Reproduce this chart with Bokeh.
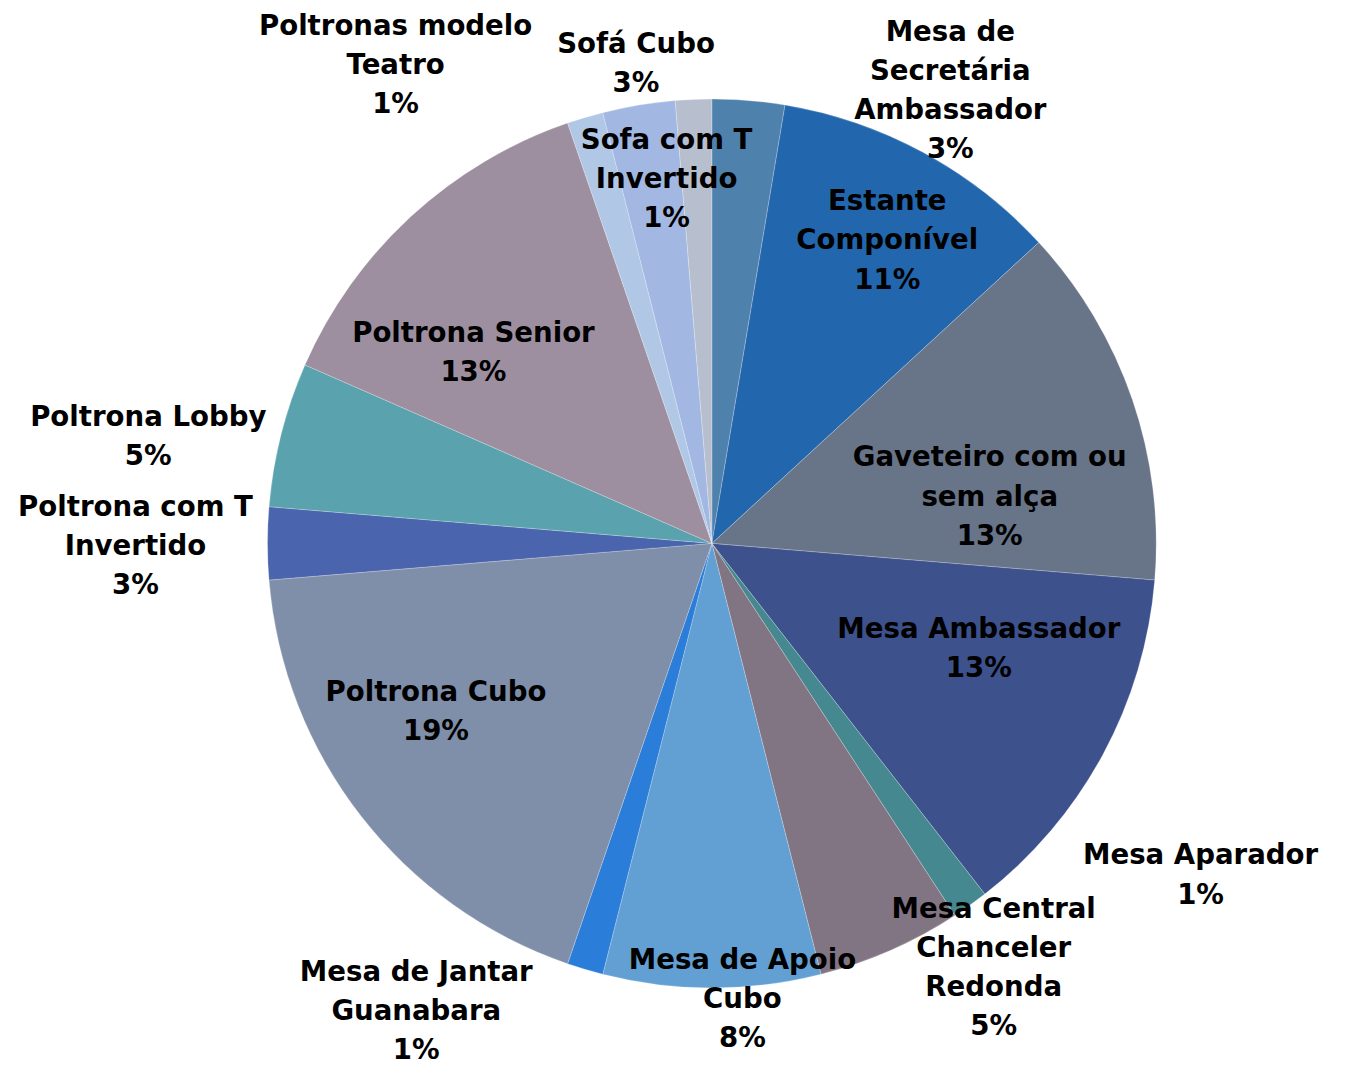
import math
from bokeh.plotting import figure
from bokeh.models import ColumnDataSource, Range1d
from bokeh.core.properties import value
from bokeh.embed import file_html
from bokeh.resources import INLINE

# ---------------- data ----------------
CATEGORIES = [
    "Mesa de\nSecretária\nAmbassador",
    "Estante\nComponível",
    "Gaveteiro com ou\nsem alça",
    "Mesa Ambassador",
    "Mesa Aparador",
    "Mesa Central\nChanceler\nRedonda",
    "Mesa de Apoio\nCubo",
    "Mesa de Jantar\nGuanabara",
    "Poltrona Cubo",
    "Poltrona com T\nInvertido",
    "Poltrona Lobby",
    "Poltrona Senior",
    "Poltronas modelo\nTeatro",
    "Sofá Cubo",
    "Sofa com T\nInvertido",
]
COUNTS = [2, 8, 10, 10, 1, 4, 6, 1, 14, 2, 4, 10, 1, 2, 1]

# ---------------- styles / layout ----------------
COLORS = [
    "#4F81AD", "#2267AE", "#687589", "#3D528C", "#468890",
    "#827583", "#629FD3", "#2A7DD9", "#7F8EA9", "#4A65AD",
    "#5AA3AE", "#9E8FA0", "#B0C8E6", "#A2B8E3", "#B7BFCF",
]
W, H = 1331, 1071
S = H / 1087.0             # layout designed on a 1347x1087 canvas, scaled to fit
CX, CY = 722 * S, 551 * S  # pie centre, pixels from top-left of the plot
R = 451 * S                # pie radius, pixels
# label block centres, offsets from the pie centre in design pixels (y downward)
LABEL_OFFSETS = [
    (242, -460), (178, -308), (282, -48), (271, 106), (496, 336),
    (286, 430), (31, 462), (-300, 474), (-280, 170), (-585, 2),
    (-572, -109), (-242, -194), (-321, -486), (-77, -488), (-46, -370),
]
LINE_STEP = 39.7 * S
FONT = "DejaVu Sans"
FONT_SIZE = f"{28.0 * S:.1f}px"


def excel_percents(counts):
    total = sum(counts)
    raw = [100.0 * c / total for c in counts]
    fl = [int(math.floor(r)) for r in raw]
    missing = 100 - sum(fl)
    order = sorted(range(len(raw)), key=lambda i: -(raw[i] - fl[i]))
    for i in order[:missing]:
        fl[i] += 1
    return fl


total = sum(COUNTS)
starts, ends = [], []
acc = 0
for c in COUNTS:
    t0 = 2 * math.pi * acc / total
    acc += c
    t1 = 2 * math.pi * acc / total
    starts.append(math.pi / 2 - t0)
    ends.append(math.pi / 2 - t1)

pie_src = ColumnDataSource(dict(start=starts, end=ends, color=COLORS, name=CATEGORIES, count=COUNTS))

p = figure(width=W, height=H, x_range=Range1d(0, W), y_range=Range1d(0, H),
           output_backend="svg", toolbar_location=None, min_border=0,
           x_axis_location=None, y_axis_location=None)
p.grid.visible = False
p.outline_line_color = None
p.background_fill_color = "white"

p.wedge(x=CX, y=H - CY, radius=R, start_angle="start", end_angle="end",
        direction="clock", fill_color="color", line_color="white",
        line_width=0.5, line_alpha=0.45, source=pie_src)

pcts = excel_percents(COUNTS)
xs, ys, texts = [], [], []
for name, pc, (dx, dy) in zip(CATEGORIES, pcts, LABEL_OFFSETS):
    lines = name.split("\n") + [f"{pc}%"]
    n = len(lines)
    for k, line in enumerate(lines):
        py = CY + dy * S + (k - (n - 1) / 2) * LINE_STEP
        xs.append(CX + dx * S)
        ys.append(H - py)
        texts.append(line)

lab_src = ColumnDataSource(dict(x=xs, y=ys, text=texts))
p.text(x="x", y="y", text="text", source=lab_src, text_align="center",
       text_baseline="middle", text_font=value(FONT), text_font_style="bold",
       text_font_size=FONT_SIZE, text_color="black")

open("out.html", "w").write(file_html(p, INLINE))
